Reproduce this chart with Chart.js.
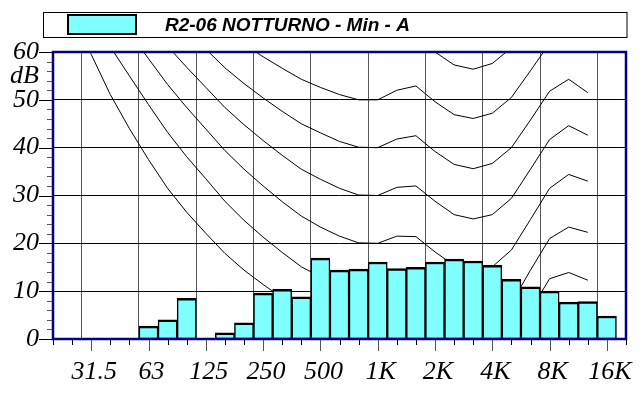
<!DOCTYPE html>
<html>
<head>
<meta charset="utf-8">
<title>R2-06 NOTTURNO - Min - A</title>
<script src="https://cdn.jsdelivr.net/npm/chart.js@4.4.0/dist/chart.umd.min.js"></script>
<style>
  html, body { margin: 0; padding: 0; background: #ffffff; }
  canvas { display: block; }
</style>
</head>
<body>
<canvas id="spectrum" width="644" height="394"></canvas>
<script>
// One-third octave band centres, 20 Hz .. 20 kHz
const bands = ['20','25','31.5','40','50','63','80','100','125','160','200','250','315','400','500',
  '630','800','1K','1.25K','1.6K','2K','2.5K','3.15K','4K','5K','6.3K','8K','10K','12.5K','16K','20K'];

// Bands that carry a label and a vertical grid line
const octaveBands = ['31.5','63','125','250','500','1K','2K','4K','8K','16K'];

// Measured level per band, dB
const levelsDb = [0, 0, 0, 0, 0, 2.7, 4.0, 8.5, 0, 1.3, 3.4, 9.6, 10.4, 8.8, 16.9,
  14.4, 14.6, 16.1, 14.7, 15.0, 16.1, 16.7, 16.3, 15.4, 12.5, 10.9, 10.0, 7.7, 7.8, 4.8, 0];

// Reference contours, 20 Hz .. 12.5 kHz (dB)
const threshold = [78.5, 68.7, 59.5, 51.1, 44.0, 37.5, 31.5, 26.5, 22.1, 17.9, 14.4, 11.4, 8.6, 6.2, 4.4,
  3.0, 2.2, 2.4, 3.5, 1.7, -1.3, -4.2, -6.0, -5.4, -1.5, 6.0, 12.6, 13.9, 12.3];
const phon10 = [83.8, 75.8, 68.2, 61.1, 55.0, 49.0, 43.2, 38.1, 33.5, 28.8, 24.8, 21.3, 18.1, 15.1, 13.0,
  11.2, 10.0, 10.0, 11.3, 10.4, 7.3, 4.5, 3.0, 3.8, 7.5, 14.4, 21.0, 23.4, 22.3];
const phon20 = [89.6, 82.7, 76.0, 69.6, 64.0, 58.6, 53.2, 48.4, 43.9, 39.4, 35.5, 32.0, 28.7, 25.7, 23.4,
  21.5, 20.1, 20.0, 21.5, 21.4, 18.2, 15.4, 14.3, 15.1, 18.6, 25.0, 31.5, 34.4, 33.0];
const phon30 = [94.9, 88.5, 82.4, 76.5, 71.3, 66.2, 61.2, 56.8, 52.6, 48.4, 44.8, 41.5, 38.4, 35.5, 33.4,
  31.5, 30.1, 30.0, 31.7, 32.0, 28.8, 26.0, 25.1, 26.0, 29.4, 35.5, 41.7, 44.6, 42.6];
const phon40 = [99.9, 93.9, 88.2, 82.6, 77.8, 73.1, 68.5, 64.4, 60.6, 56.7, 53.4, 50.4, 47.6, 45.0, 43.1,
  41.3, 40.1, 40.0, 41.8, 42.5, 39.2, 36.5, 35.6, 36.7, 40.0, 45.8, 51.8, 54.3, 51.5];
const phon50 = [104.7, 99.2, 93.7, 88.5, 84.0, 79.6, 75.4, 71.6, 68.2, 64.7, 61.7, 59.0, 56.6, 54.3, 52.6,
  51.1, 50.0, 50.0, 52.0, 52.9, 49.6, 46.9, 46.1, 47.2, 50.5, 56.1, 61.8, 63.8, 60.1];
const phon60 = [109.5, 104.2, 99.1, 94.2, 90.0, 85.9, 82.1, 78.7, 75.6, 72.5, 69.9, 67.5, 65.4, 63.5, 62.1,
  60.8, 59.9, 60.0, 62.2, 63.2, 60.0, 57.3, 56.4, 57.6, 60.9, 66.4, 71.7, 73.2, 68.6];

const seriesLabel = 'R2-06 NOTTURNO - Min - A';
const unitLabel = 'dB';
const yMin = 0, yMax = 60, yStep = 10, yMinorStep = 2;

const BAR_FILL = '#80ffff';
const FRAME = '#000080';
const SERIF_FAMILY = '"Liberation Serif", "Times New Roman", serif';
const SERIF_SIZE = 26;

// Frame, tick marks, unit label and legend box
const decorations = {
  id: 'decorations',
  afterDatasetsDraw(chart) {
    const { ctx, chartArea: a } = chart;
    ctx.save();
    ctx.strokeStyle = FRAME;
    ctx.lineWidth = 2.5;
    ctx.strokeRect(a.left, a.top, a.right - a.left, a.bottom - a.top);
    ctx.restore();
  },
  afterDraw(chart) {
    const { ctx, chartArea: a, scales: { x, y } } = chart;
    ctx.save();
    ctx.lineWidth = 1;

    // band tick marks below the x axis
    bands.forEach((b, i) => {
      const px = Math.round(x.getPixelForTick(i)) + 0.5;
      const major = octaveBands.includes(b);
      ctx.strokeStyle = major ? '#555555' : '#000000';
      ctx.beginPath();
      ctx.moveTo(px, a.bottom + 1);
      ctx.lineTo(px, a.bottom + (major ? 12 : 6));
      ctx.stroke();
    });

    // minor and major tick marks left of the y axis
    for (let v = yMin; v <= yMax; v += yMinorStep) {
      const py = Math.round(y.getPixelForValue(v)) + 0.5;
      const major = v % yStep === 0;
      ctx.strokeStyle = major ? '#000000' : '#555555';
      ctx.beginPath();
      ctx.moveTo(a.left - (major ? 14 : 6), py);
      ctx.lineTo(a.left - 1, py);
      ctx.stroke();
    }

    // unit label under the top tick
    ctx.font = `italic ${SERIF_SIZE}px ${SERIF_FAMILY}`;
    ctx.fillStyle = '#000000';
    ctx.textAlign = 'right';
    ctx.textBaseline = 'middle';
    ctx.fillText(unitLabel, a.left - 14, y.getPixelForValue(55));

    // legend box
    const label = chart.data.datasets[0].label;
    ctx.strokeStyle = '#000000';
    ctx.lineWidth = 1;
    ctx.strokeRect(43.5, 12.5, a.right + 1 - 43.5, 25);
    ctx.fillStyle = BAR_FILL;
    ctx.fillRect(68, 15, 68, 19);
    ctx.lineWidth = 2;
    ctx.strokeRect(68, 15, 68, 19);
    ctx.fillStyle = '#000000';
    ctx.font = 'italic bold 19px "Liberation Sans", Arial, sans-serif';
    ctx.textAlign = 'left';
    ctx.textBaseline = 'middle';
    ctx.fillText(label, 165, 25.5);
    ctx.restore();
  }
};

const contours = [threshold, phon10, phon20, phon30, phon40, phon50, phon60];

new Chart(document.getElementById('spectrum'), {
  type: 'bar',
  data: {
    labels: bands,
    datasets: [
      {
        type: 'bar',
        label: seriesLabel,
        data: levelsDb,
        backgroundColor: BAR_FILL,
        borderColor: '#000000',
        borderWidth: { top: 2.5, bottom: 1, left: 1.5, right: 1.5 },
        borderSkipped: false,
        barPercentage: 1,
        categoryPercentage: 1,
        order: 0
      },
      ...contours.map(c => ({
        type: 'line',
        data: c,
        borderColor: '#000000',
        borderWidth: 1,
        pointRadius: 0,
        fill: false,
        tension: 0,
        clip: 0,
        order: 1
      }))
    ]
  },
  options: {
    responsive: false,
    devicePixelRatio: 1,
    animation: false,
    events: [],
    layout: { padding: { top: 52, right: 11, bottom: 0, left: 0 } },
    plugins: {
      legend: { display: false },
      tooltip: { enabled: false },
      title: { display: false }
    },
    scales: {
      x: {
        type: 'category',
        offset: false,
        afterFit(scale) { scale.height = 55; },
        border: { display: false },
        grid: {
          drawTicks: false,
          lineWidth: 1,
          color: c => octaveBands.includes(bands[c.index]) ? '#555555' : 'rgba(0,0,0,0)'
        },
        ticks: {
          autoSkip: false,
          maxRotation: 0,
          minRotation: 0,
          padding: 18,
          labelOffset: 3,
          color: '#000000',
          font: { family: SERIF_FAMILY, size: SERIF_SIZE, style: 'italic' },
          callback: (v, i) => octaveBands.includes(bands[i]) ? bands[i] : ''
        }
      },
      y: {
        min: yMin,
        max: yMax,
        afterFit(scale) { scale.width = 53; },
        border: { display: false },
        grid: {
          drawTicks: false,
          lineWidth: 1,
          color: c => (c.tick.value > yMin && c.tick.value < yMax) ? '#000000' : 'rgba(0,0,0,0)'
        },
        ticks: {
          stepSize: yStep,
          padding: 14,
          color: '#000000',
          font: { family: SERIF_FAMILY, size: SERIF_SIZE, style: 'italic' }
        }
      }
    }
  },
  plugins: [decorations]
});
</script>
</body>
</html>
